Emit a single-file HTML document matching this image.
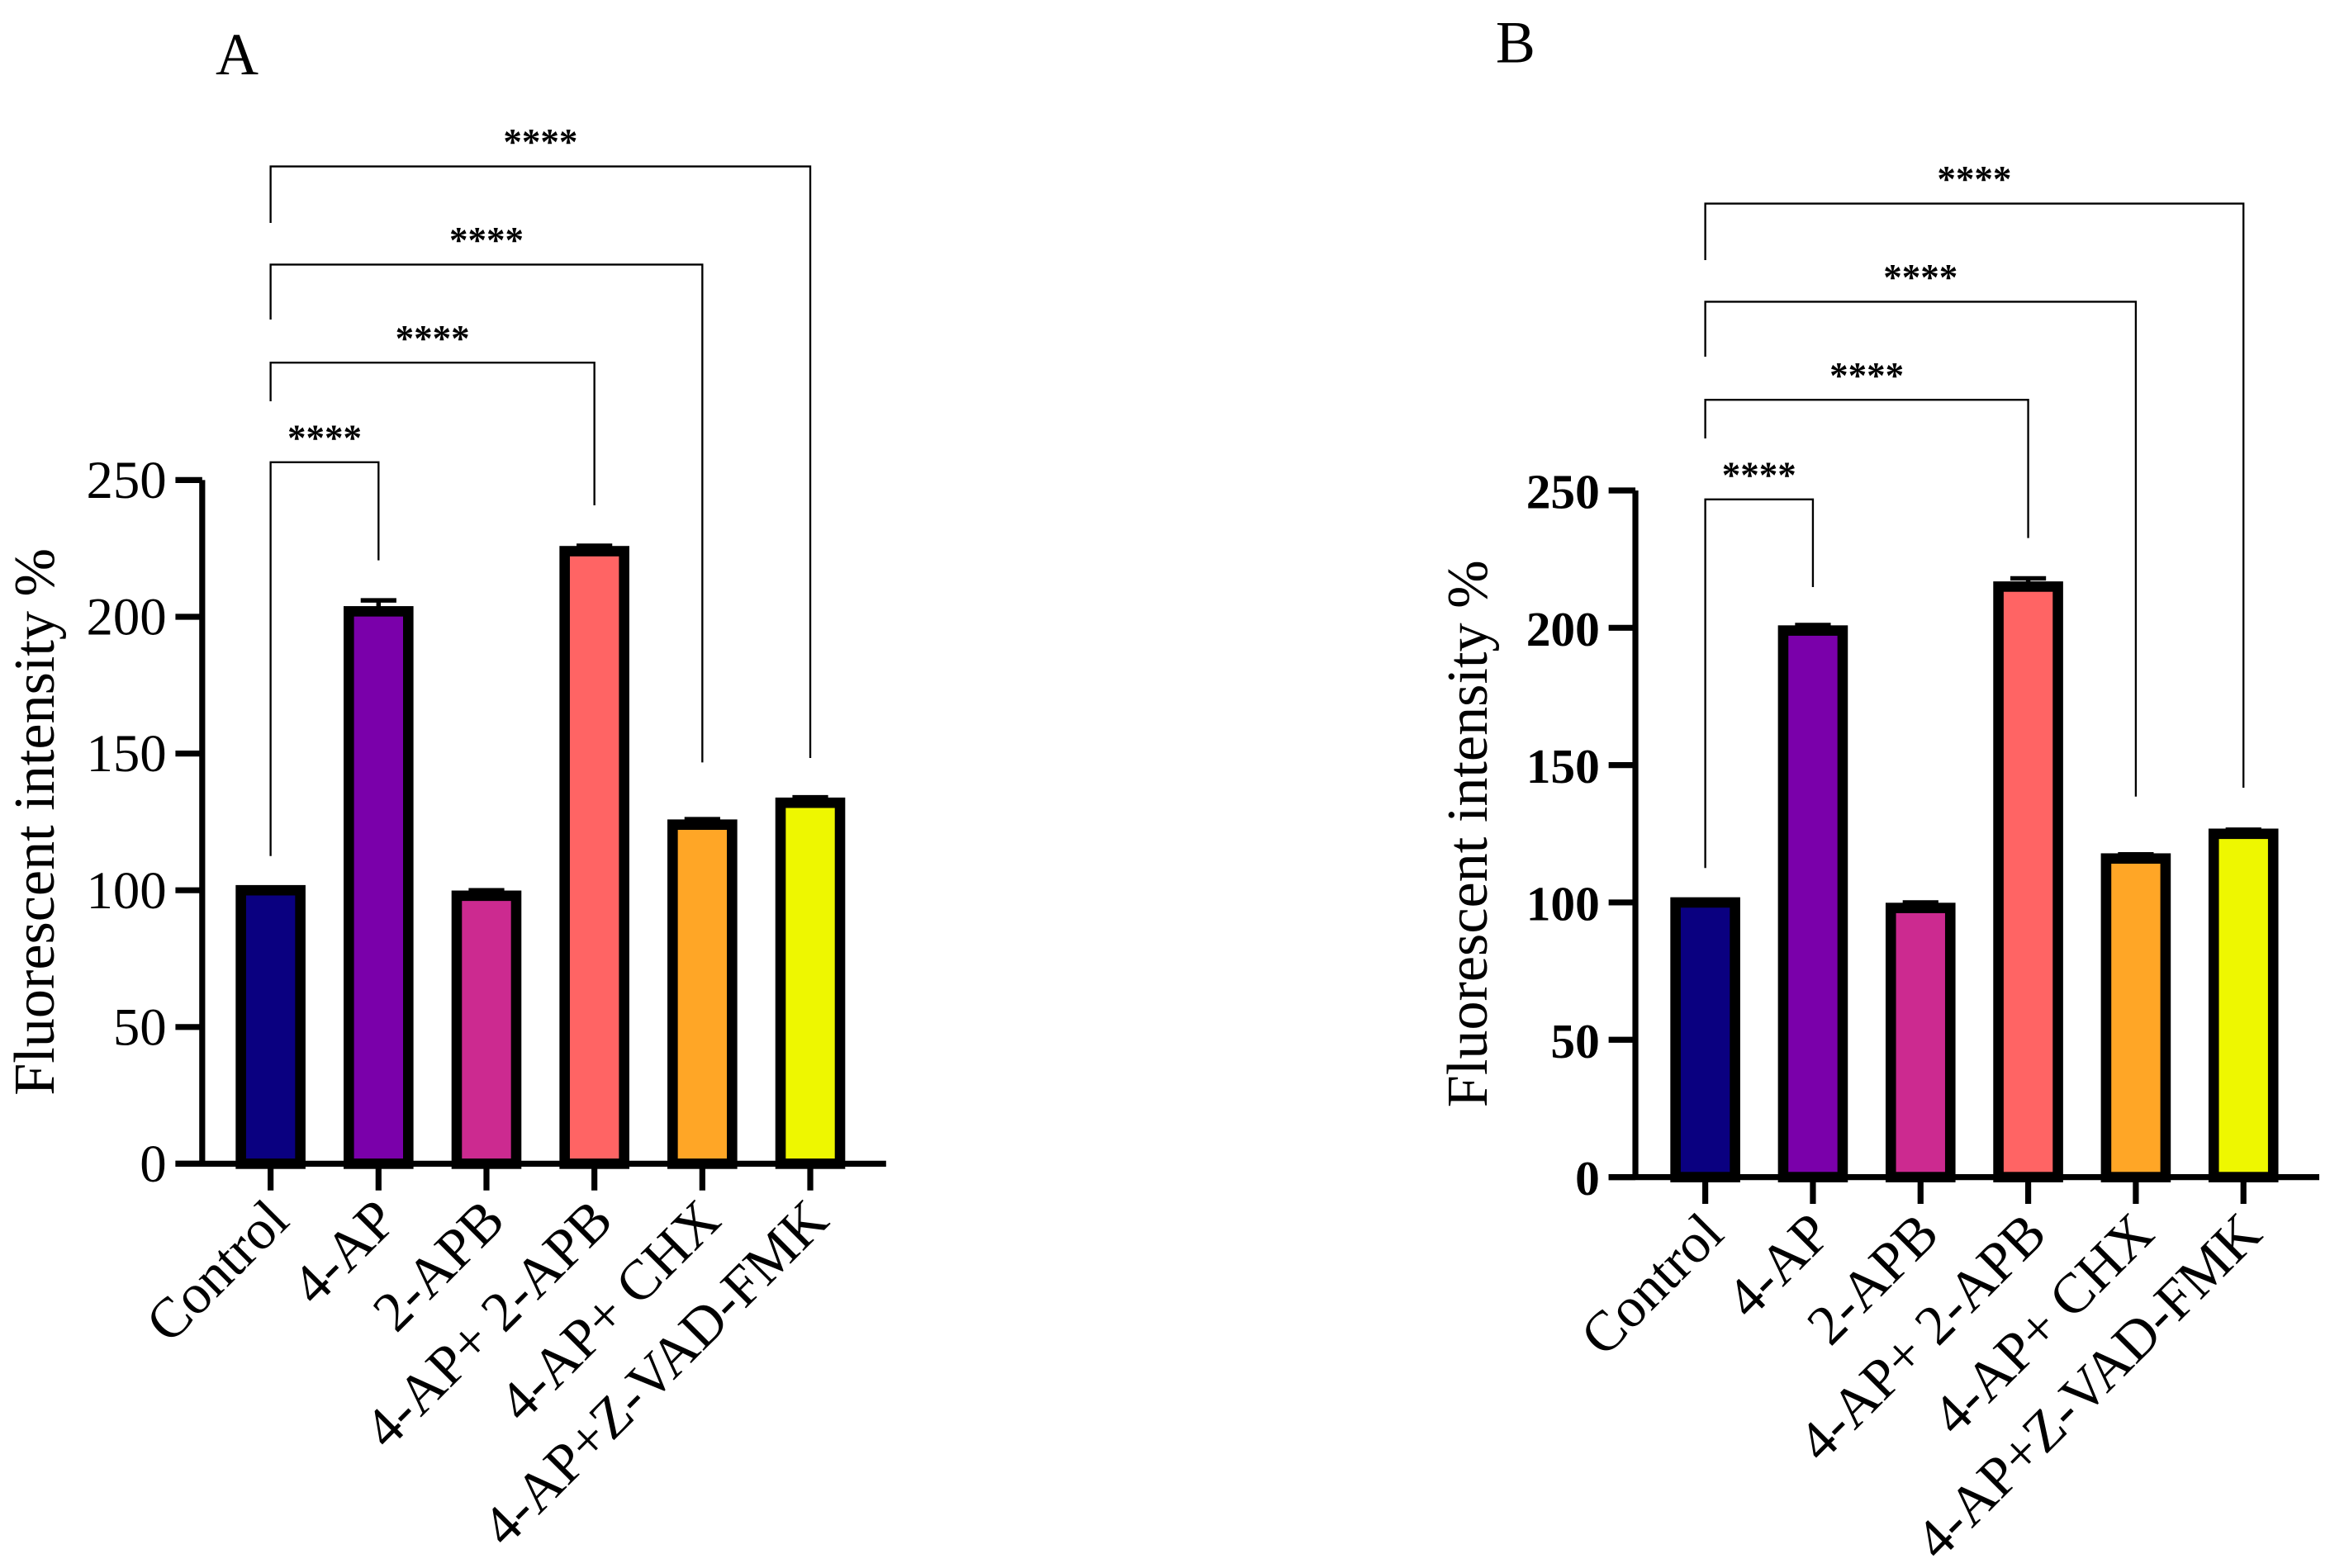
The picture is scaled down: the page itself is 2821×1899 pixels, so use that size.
<!DOCTYPE html>
<html><head><meta charset="utf-8"><style>
html,body{margin:0;padding:0;background:#fff;}
svg{display:block;}
text{font-family:"Liberation Serif",serif;fill:#000;}
</style></head><body>
<svg id="fig" width="2821" height="1899" viewBox="0 0 1567.2 1055" xmlns="http://www.w3.org/2000/svg"></svg>
<script>
const categories = ["Control","4-AP","2-APB","4-AP+ 2-APB","4-AP+ CHX","4-AP+Z-VAD-FMK"];
const valuesA = [100,202,98,224,124,132];
const errorsA = [0,4,2,2,2,2];
const valuesB = [100,199,98,215,116,125];
const errorsB = [0,2,2,3,1.5,1.5];
const yTicks = [0,50,100,150,200,250];
const colors = ["#0a0080","#7a00aa","#cc2a90","#ff6464","#ffa626","#eef700"];
const sigLabels = ["****","****","****","****"];

const NS="http://www.w3.org/2000/svg";
const svg=document.getElementById('fig');
function mk(tag,attrs,parent){const e=document.createElementNS(NS,tag);for(const k in attrs)e.setAttribute(k,attrs[k]);(parent||svg).appendChild(e);return e;}

function panel(cfg){
  const g=mk('g',{});
  
  
  const y=v=>cfg.y0-(v/250)*(cfg.y0-cfg.y250);
  const x=i=>cfg.x0+i*cfg.step;
  const L=mk('text',{x:cfg.letterX,y:cfg.letterY,'font-size':40},g);L.textContent=cfg.id;
  
  
  cfg.values.forEach((v,i)=>{
    const b=mk('rect',{x:x(i)-20,y:y(v),width:40,height:cfg.y0-y(v),fill:colors[i],stroke:'#000','stroke-width':7},g);
    
    
    const e=cfg.errors[i];
    if(e>0){
      const eb=mk('path',{d:`M${x(i)} ${y(v)} V${y(v+e)} M${x(i)-12} ${y(v+e)} H${x(i)+12}`,stroke:'#000','stroke-width':3,fill:'none'},g);
      
      
    }
  });
  const ax=mk('path',{d:`M${cfg.yAxisX} ${cfg.y250} V${cfg.y0} M${cfg.yAxisX-18} ${cfg.y0} H${cfg.xEnd}`,stroke:'#000','stroke-width':4,fill:'none'},g);
  
  
  yTicks.forEach(t=>{
    mk('line',{x1:cfg.yAxisX-18,x2:cfg.yAxisX,y1:y(t),y2:y(t),stroke:'#000','stroke-width':4},g);
    const tl=mk('text',{x:cfg.yAxisX-24,y:y(t)+12,'font-size':cfg.bold?33:36,'font-weight':cfg.bold?'bold':'normal','text-anchor':'end'},g);
    tl.textContent=t;
    
    
  });
  categories.forEach((c,i)=>{
    mk('line',{x1:x(i),x2:x(i),y1:cfg.y0,y2:cfg.y0+18,stroke:'#000','stroke-width':4},g);
    const tx=x(i)+14, ty=cfg.y0+40;
    const t=mk('text',{x:tx,y:ty,'font-size':38,'text-anchor':'end',transform:`rotate(-45 ${tx} ${ty})`},g);
    t.textContent=c;
    
    
  });
  const yl=mk('text',{x:cfg.ylabX,y:(cfg.y0+cfg.y250)/2,'font-size':39,'text-anchor':'middle',transform:`rotate(-90 ${cfg.ylabX} ${(cfg.y0+cfg.y250)/2})`},g);
  yl.textContent='Fluorescent intensity %';
  
  
  cfg.brackets.forEach((br,k)=>{
    const j=k===0?1:k+2;
    const p=mk('path',{d:`M${x(0)} ${br.left} V${br.top} H${x(j)} V${br.right}`,stroke:'#000','stroke-width':1.3,fill:'none'},g);
    
    
    const s=mk('text',{x:(x(0)+x(j))/2,y:br.top-8,'font-size':25,'font-weight':'bold','text-anchor':'middle'},g);
    s.textContent=sigLabels[k];
    
    
  });
}
panel({id:'A',x0:182,step:72.6,y0:783,y250:323,yAxisX:136,xEnd:596,letterX:145,letterY:50,ylabX:36,bold:false,
  values:valuesA,errors:errorsA,
  brackets:[{top:311,left:576,right:377},{top:244,left:270,right:340},{top:178,left:215,right:513},{top:112,left:150,right:510}]});
panel({id:'B',x0:1147,step:72.4,y0:792,y250:330,yAxisX:1100,xEnd:1560,letterX:1006,letterY:42,ylabX:1000,bold:true,
  values:valuesB,errors:errorsB,
  brackets:[{top:336,left:584,right:395},{top:269,left:295,right:362},{top:203,left:240,right:536},{top:137,left:175,right:530}]});
</script>
</body></html>
